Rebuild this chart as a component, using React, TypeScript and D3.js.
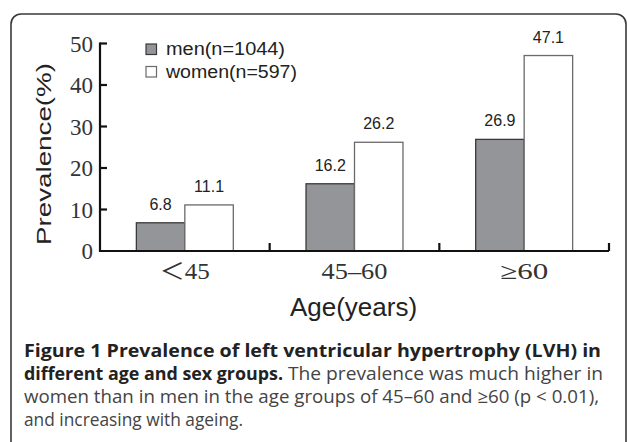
import React, {useEffect, useRef} from 'react'
import * as d3 from 'd3'

const ageGroups = ['＜45', '45–60', '≥60']
const menValues = [6.8, 16.2, 26.9]
const womenValues = [11.1, 26.2, 47.1]
const seriesNames = ['men(n=1044)', 'women(n=597)']
const yTicks = [0, 10, 20, 30, 40, 50]
const captionBold1 = 'Figure 1 Prevalence of left ventricular hypertrophy (LVH) in'
const captionBold2 = 'different age and sex groups.'
const captionRest2 = ' The prevalence was much higher in'
const captionLine3 = 'women than in men in the age groups of 45–60 and ≥60 (p < 0.01),'
const captionLine4 = 'and increasing with ageing.'

export default function App() {
  const ref = useRef<SVGSVGElement>(null)

  useEffect(() => {
    document.body.style.margin = '0'
    const svg = d3.select(ref.current)
    svg.selectAll('*').remove()

    const left = 100, right = 609, top = 43.5, bottom = 251
    const colors = ['#949599', '#ffffff']
    const strokes = ['#3a3a3a', '#6a6a6a']

    // frame round the figure
    svg.append('rect')
      .attr('x', 11).attr('y', 14)
      .attr('width', 615).attr('height', 520)
      .attr('rx', 10)
      .attr('fill', 'none')
      .attr('stroke', '#3a3a3a')
      .attr('stroke-width', 1.6)

    const x0 = d3.scaleBand().domain(ageGroups).range([left, right]).paddingInner(0).paddingOuter(0)
    const x1 = d3.scaleBand().domain(['men', 'women']).range([0, x0.bandwidth()]).paddingInner(0).paddingOuter(0.75)
    const y = d3.scaleLinear().domain([0, 50]).range([bottom, top])

    const rows = ageGroups.map((g, i) => ({group: g, values: [
      {key: 'men', value: menValues[i]},
      {key: 'women', value: womenValues[i]},
    ]}))

    const groups = svg.selectAll('.grp')
      .data(rows)
      .enter().append('g')
      .attr('class', 'grp')
      .attr('transform', d => 'translate(' + x0(d.group) + ',0)')

    groups.selectAll('rect')
      .data(d => d.values)
      .enter().append('rect')
      .attr('x', d => x1(d.key)!)
      .attr('y', d => y(d.value))
      .attr('width', x1.bandwidth())
      .attr('height', d => bottom - y(d.value))
      .attr('fill', (d, i) => colors[i])
      .attr('stroke', (d, i) => strokes[i])
      .attr('stroke-width', 1.3)

    groups.selectAll('text')
      .data(d => d.values)
      .enter().append('text')
      .attr('x', d => x1(d.key)! + x1.bandwidth() / 2)
      .attr('y', d => y(d.value) - 13)
      .attr('text-anchor', 'middle')
      .attr('font-family', 'Liberation Sans, Arial, sans-serif')
      .attr('font-size', 16)
      .attr('fill', '#222')
      .text(d => d.value.toFixed(1))

    // axes
    const axis = svg.append('g').attr('stroke', '#111').attr('stroke-width', 2.2)
    axis.append('line').attr('x1', left).attr('x2', left).attr('y1', bottom + 1).attr('y2', top - 1)
    axis.append('line').attr('x1', left - 1).attr('x2', right).attr('y1', bottom).attr('y2', bottom)
    axis.selectAll('.yt').data(yTicks.filter(t => t > 0)).enter().append('line')
      .attr('x1', left).attr('x2', left + 7)
      .attr('y1', d => y(d)).attr('y2', d => y(d))
    axis.selectAll('.xt').data(ageGroups).enter().append('line')
      .attr('x1', d => x0(d)! + x0.bandwidth()).attr('x2', d => x0(d)! + x0.bandwidth())
      .attr('y1', bottom).attr('y2', bottom - 8)

    svg.selectAll('.ylab').data(yTicks).enter().append('text')
      .attr('x', left - 7)
      .attr('y', d => y(d) + 8)
      .attr('text-anchor', 'end')
      .attr('font-family', 'Liberation Serif, Times New Roman, serif')
      .attr('font-size', 23)
      .attr('fill', '#333')
      .text(d => d)

    const xLabelWidths = [50, 66, 48]
    svg.selectAll('.xlab').data(ageGroups).enter().append('text')
      .attr('x', d => x0(d)! + x0.bandwidth() / 2)
      .attr('y', 279)
      .attr('text-anchor', 'middle')
      .attr('font-family', 'Liberation Serif, Noto Sans CJK SC, serif')
      .attr('font-size', 23)
      .attr('textLength', (d, i) => xLabelWidths[i])
      .attr('lengthAdjust', 'spacingAndGlyphs')
      .attr('fill', '#333')
      .text(d => d)

    svg.append('text')
      .attr('x', (left + right) / 2 - 1)
      .attr('y', 316)
      .attr('text-anchor', 'middle')
      .attr('font-family', 'Liberation Sans, Arial, sans-serif')
      .attr('font-size', 26)
      .attr('fill', '#222')
      .text('Age(years)')

    svg.append('text')
      .attr('transform', 'translate(51,154) rotate(-90)')
      .attr('text-anchor', 'middle')
      .attr('font-family', 'Liberation Sans, Arial, sans-serif')
      .attr('font-size', 21)
      .attr('textLength', 182)
      .attr('lengthAdjust', 'spacingAndGlyphs')
      .attr('fill', '#222')
      .text('Prevalence(%)')

    // legend
    const legend = svg.selectAll('.leg').data(seriesNames).enter().append('g')
      .attr('transform', (d, i) => 'translate(146,' + (44 + i * 22.5) + ')')
    legend.append('rect')
      .attr('width', 10.5).attr('height', 10.5)
      .attr('fill', (d, i) => colors[i])
      .attr('stroke', (d, i) => strokes[i])
      .attr('stroke-width', 1.2)
    legend.append('text')
      .attr('x', 20).attr('y', 11)
      .attr('font-family', 'Liberation Sans, Arial, sans-serif')
      .attr('font-size', 18)
      .attr('textLength', (d, i) => i === 0 ? 119 : 131)
      .attr('lengthAdjust', 'spacingAndGlyphs')
      .attr('fill', '#222')
      .text(d => d)

    // caption
    const cap = svg.append('g')
      .attr('font-family', 'Open Sans, Noto Sans, sans-serif')
      .attr('font-size', 18)
      .attr('lengthAdjust', 'spacingAndGlyphs')
    cap.append('text').attr('x', 24).attr('y', 357)
      .attr('font-weight', 'bold').attr('fill', '#222')
      .attr('textLength', 577).attr('lengthAdjust', 'spacingAndGlyphs')
      .text(captionBold1)
    const l2 = cap.append('text').attr('x', 24).attr('y', 380)
    l2.append('tspan').attr('font-weight', 'bold').attr('fill', '#222')
      .attr('textLength', 259).attr('lengthAdjust', 'spacingAndGlyphs')
      .text(captionBold2)
    l2.append('tspan').attr('fill', '#444')
      .attr('textLength', 320).attr('lengthAdjust', 'spacingAndGlyphs')
      .text(captionRest2)
    cap.append('text').attr('x', 24).attr('y', 403).attr('fill', '#444')
      .attr('textLength', 575).attr('lengthAdjust', 'spacingAndGlyphs')
      .text(captionLine3)
    cap.append('text').attr('x', 24).attr('y', 426).attr('fill', '#444')
      .attr('textLength', 219).attr('lengthAdjust', 'spacingAndGlyphs')
      .text(captionLine4)
  }, [])

  return (
    <svg ref={ref} width={628} height={442} style={{display: 'block', background: '#fff'}}/>
  )
}
